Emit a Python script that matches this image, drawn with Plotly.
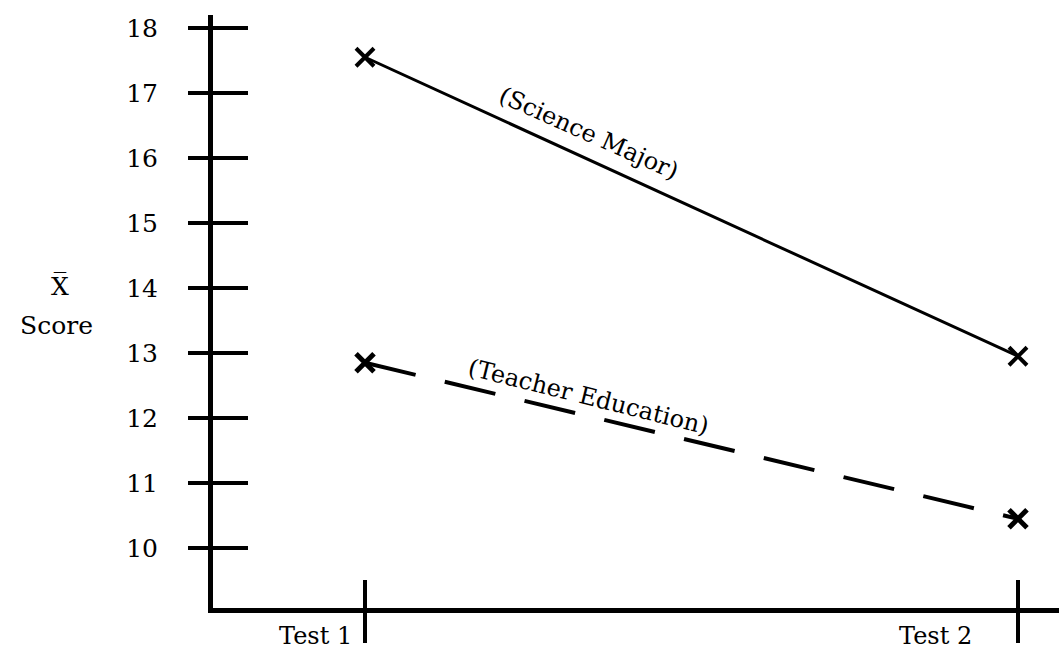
import plotly.graph_objects as go

# ---- data ----
tests = [1, 2]
test_labels = ["Test 1", "Test 2"]
science_major = [17.55, 12.95]
teacher_education = [12.85, 10.45]
y_ticks = [10, 11, 12, 13, 14, 15, 16, 17, 18]

FONT = "DejaVu Serif"
fig = go.Figure()

fig.add_trace(go.Scatter(
    x=tests, y=science_major, mode="lines+markers", name="Science Major",
    line=dict(color="black", width=3),
    marker=dict(symbol="x-thin", size=18, line=dict(color="black", width=4)),
))
fig.add_trace(go.Scatter(
    x=tests, y=teacher_education, mode="lines+markers", name="Teacher Education",
    line=dict(color="black", width=4, dash="52px,30px"),
    marker=dict(symbol="x-thin", size=18, line=dict(color="black", width=5)),
))
# dummy trace to activate overlay axes (crossing ticks)
fig.add_trace(go.Scatter(x=[], y=[], xaxis="x2", yaxis="y2", showlegend=False))

xr = [0.7672, 2.0628]
yr = [9.077, 18.2]

fig.update_layout(
    width=1059, height=654,
    margin=dict(l=213, r=0, t=15, b=46),
    paper_bgcolor="white", plot_bgcolor="white",
    showlegend=False,
    font=dict(family=FONT, size=24, color="black"),
    xaxis=dict(range=xr, showgrid=False, zeroline=False, showline=True,
               linecolor="black", linewidth=5, tickvals=tests,
               ticks="outside", ticklen=30, tickwidth=4, tickcolor="black",
               showticklabels=False),
    yaxis=dict(range=yr, showgrid=False, zeroline=False, showline=True,
               linecolor="black", linewidth=5, tickvals=y_ticks,
               ticks="outside", ticklen=20, tickwidth=4, tickcolor="black",
               ticklabelstandoff=25,
               tickfont=dict(family=FONT, size=25, color="black")),
    xaxis2=dict(range=xr, overlaying="x", anchor="y2", showgrid=False,
                zeroline=False, showline=False, tickvals=tests,
                ticks="inside", ticklen=28, tickwidth=4, tickcolor="black",
                showticklabels=False),
    yaxis2=dict(range=yr, overlaying="y", anchor="x2", side="left",
                showgrid=False, zeroline=False, showline=False,
                tickvals=y_ticks, ticks="inside", ticklen=35, tickwidth=4,
                tickcolor="black", showticklabels=False),
)

# x category labels
shifts = [-50, -82]
for t, lab, s in zip(tests, test_labels, shifts):
    fig.add_annotation(x=t, y=0, xref="x", yref="paper", text=lab,
                       showarrow=False, xanchor="center", yanchor="top",
                       xshift=s, yshift=-12,
                       font=dict(family=FONT, size=24, color="black"))

# y-axis title
fig.add_annotation(x=0, y=0, xref="paper", yref="paper", text="X\u0305",
                   showarrow=False, xanchor="center", yanchor="middle",
                   xshift=-153, yshift=608 - 286,
                   font=dict(family=FONT, size=25))
fig.add_annotation(x=0, y=0, xref="paper", yref="paper", text="Score",
                   showarrow=False, xanchor="center", yanchor="middle",
                   xshift=-157, yshift=608 - 325,
                   font=dict(family=FONT, size=25))

# series labels along lines
fig.add_annotation(x=1.3415, y=16.38, text="(Science Major)", showarrow=False,
                   textangle=24, font=dict(family=FONT, size=24))
fig.add_annotation(x=1.343, y=12.32, text="(Teacher Education)", showarrow=False,
                   textangle=14, font=dict(family=FONT, size=24))

fig.write_html("out.html", config={"displayModeBar": False},
               post_script="document.body.style.margin='0px';")
